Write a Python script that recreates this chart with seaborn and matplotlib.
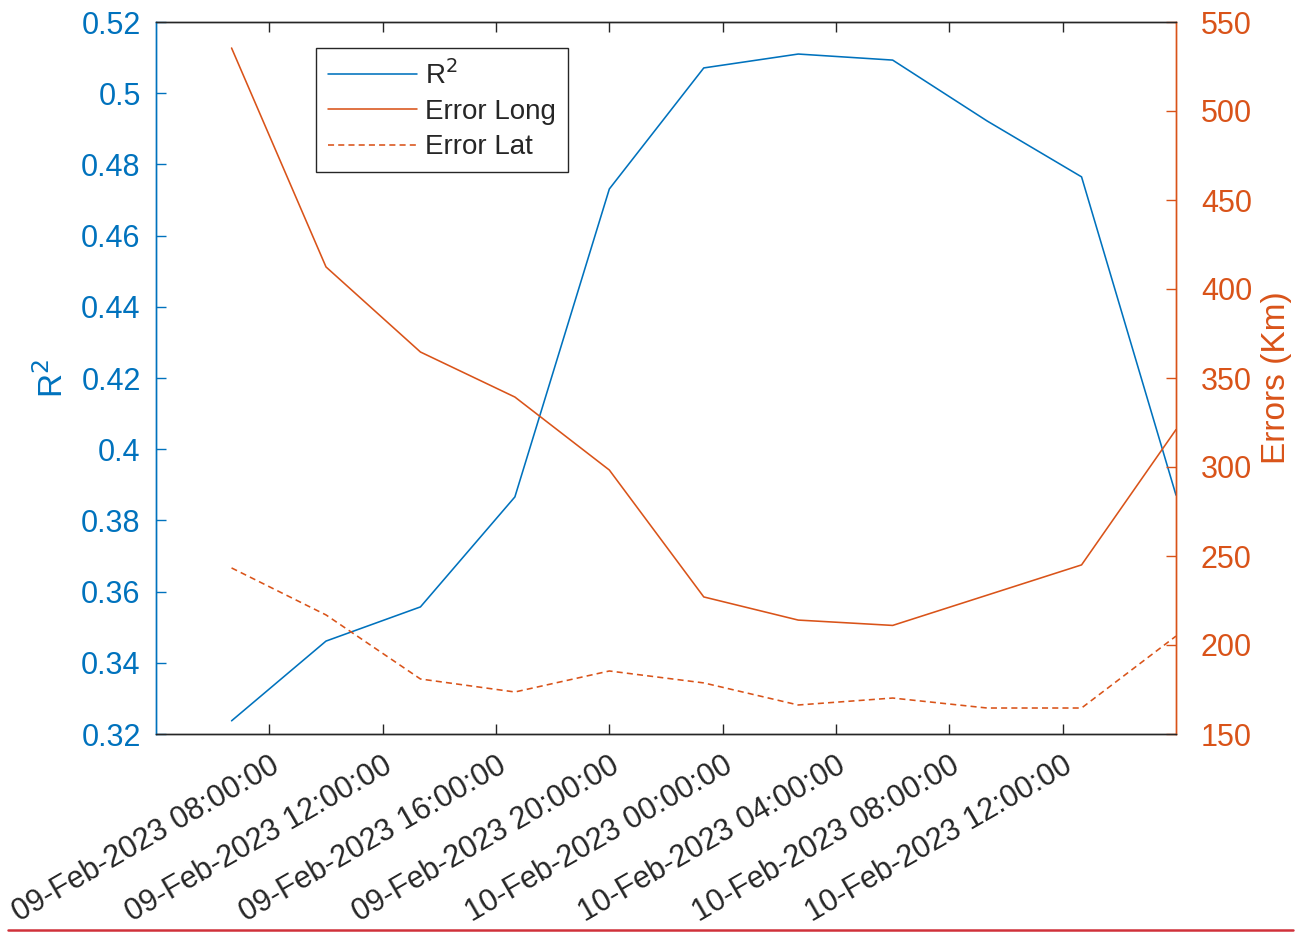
import numpy as np
import pandas as pd
import matplotlib
matplotlib.use("Agg")
import matplotlib.pyplot as plt
import matplotlib.dates as mdates
from matplotlib.lines import Line2D
import seaborn as sns

# ---- data ----
times = ["2023-02-09 06:40", "2023-02-09 10:00", "2023-02-09 13:20", "2023-02-09 16:40",
         "2023-02-09 20:00", "2023-02-09 23:20", "2023-02-10 02:40", "2023-02-10 06:00",
         "2023-02-10 09:20", "2023-02-10 12:40", "2023-02-10 16:00"]
r2 = [0.3237, 0.3461, 0.3557, 0.3866, 0.4731, 0.5071, 0.5110, 0.5093, 0.4922, 0.4765, 0.3871]
err_long = [535.4, 412.4, 364.6, 339.3, 298.3, 227.0, 214.0, 211.0, 228.0, 245.0, 321.0]
err_lat = [243.3, 216.9, 180.9, 173.6, 185.4, 178.7, 166.3, 170.2, 164.6, 164.6, 205.0]
x_ticks = ["2023-02-09 08:00", "2023-02-09 12:00", "2023-02-09 16:00", "2023-02-09 20:00",
           "2023-02-10 00:00", "2023-02-10 04:00", "2023-02-10 08:00", "2023-02-10 12:00"]
x_limits = ["2023-02-09 04:00", "2023-02-10 16:00"]
r2_ticks = [0.32, 0.34, 0.36, 0.38, 0.40, 0.42, 0.44, 0.46, 0.48, 0.50, 0.52]
r2_tick_labels = ["0.32", "0.34", "0.36", "0.38", "0.4", "0.42", "0.44", "0.46", "0.48", "0.5", "0.52"]
err_ticks = [150, 200, 250, 300, 350, 400, 450, 500, 550]

BLUE = "#0072BD"
ORANGE = "#D95319"
DARK = "#262626"

sns.set_style("white")
plt.rcParams["font.family"] = ["Liberation Sans", "DejaVu Sans"]

df = pd.DataFrame({"time": pd.to_datetime(times), "r2": r2,
                   "long": err_long, "lat": err_lat})

fig = plt.figure(figsize=(13.08, 9.32), dpi=100)
ax = fig.add_axes([156 / 1308, 1 - 734 / 932, 1020 / 1308, 712 / 932])

LW = 1.15
sns.lineplot(data=df, x="time", y="r2", ax=ax, color=BLUE, lw=LW, label="R$^2$", legend=False)
ax2 = ax.twinx()
sns.lineplot(data=df, x="time", y="long", ax=ax2, color=ORANGE, lw=LW, label="Error Long", legend=False)
sns.lineplot(data=df, x="time", y="lat", ax=ax2, color=ORANGE, lw=LW, label="Error Lat",
             legend=False, dashes=False)
ax2.lines[-1].set_dashes([3.8, 2.6])

ax.set_xlim(pd.to_datetime(x_limits[0]), pd.to_datetime(x_limits[1]))
ax.set_xticks(pd.to_datetime(x_ticks))
ax.xaxis.set_major_formatter(mdates.DateFormatter("%d-%b-%Y %H:%M:%S"))
ax.set_ylim(0.32, 0.52)
ax.set_yticks(r2_ticks)
ax.set_yticklabels(r2_tick_labels)
ax2.set_ylim(150, 550)
ax2.set_yticks(err_ticks)

for lbl in ax.get_xticklabels():
    lbl.set_rotation(30)
    lbl.set_ha("right")
    lbl.set_va("top")
    lbl.set_rotation_mode("anchor")

ax.tick_params(axis="x", which="major", direction="in", top=True, bottom=True, length=7,
               width=1.0, color=DARK, labelcolor=DARK, labelsize=22, pad=12)
ax.tick_params(axis="y", which="major", direction="in", left=True, right=False, length=7,
               width=1.0, color=BLUE, labelcolor=BLUE, labelsize=22, pad=11)
ax2.tick_params(axis="y", which="major", direction="in", right=True, left=False, length=7,
                width=1.0, color=ORANGE, labelcolor=ORANGE, labelsize=22, pad=18)

ax.set_xlabel("")
ax.set_ylabel("R$^2$", color=BLUE, fontsize=24, labelpad=8)
ax2.set_ylabel("Errors (Km)", color=ORANGE, fontsize=24, labelpad=6)

for a in (ax, ax2):
    for s in a.spines.values():
        s.set_linewidth(1.0)
    a.spines["top"].set_color(DARK)
    a.spines["bottom"].set_color(DARK)
    a.spines["left"].set_color(BLUE)
    a.spines["right"].set_color(ORANGE)

handles = ax.get_lines()[:1] + ax2.get_lines()[:2]
labels = ["R$^2$", "Error Long", "Error Lat"]
leg = ax2.legend(handles, labels, loc="upper left", bbox_to_anchor=(0.157, 0.9635),
                 borderaxespad=0, frameon=True, fancybox=False, framealpha=1,
                 edgecolor=DARK, fontsize=20, handlelength=3.2, handletextpad=0.3,
                 labelspacing=0.34, borderpad=0.42)
leg.get_frame().set_linewidth(1.0)

fig.add_artist(Line2D([8 / 1308, 1293 / 1308], [1 - 930 / 932, 1 - 930 / 932],
                      transform=fig.transFigure, color="#D0313A", lw=1.8))

fig.savefig("out.png", dpi=100)
